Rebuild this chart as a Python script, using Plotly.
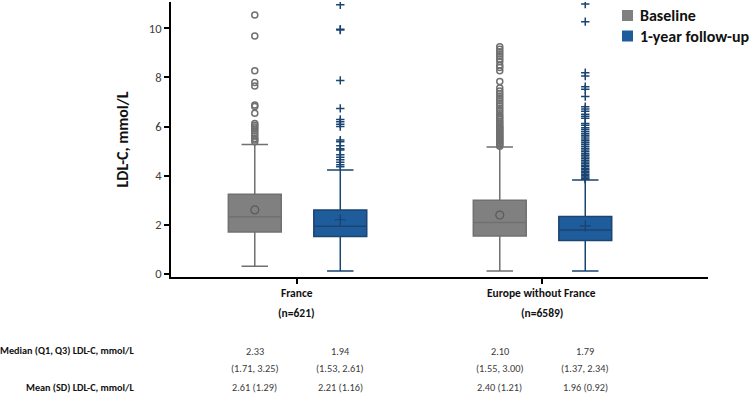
import plotly.graph_objects as go

# ---------------- data ----------------
regions = ["France", "Europe without France"]
region_n = ["(n=621)", "(n=6589)"]
region_pos = [0, 1]
series = ["Baseline", "1-year follow-up"]
series_offset = [-0.172, 0.177]

q1 = {"Baseline": [1.71, 1.55], "1-year follow-up": [1.53, 1.37]}
median = {"Baseline": [2.33, 2.10], "1-year follow-up": [1.94, 1.79]}
q3 = {"Baseline": [3.25, 3.00], "1-year follow-up": [2.61, 2.34]}
mean = {"Baseline": [2.61, 2.40], "1-year follow-up": [2.21, 1.96]}
sd = {"Baseline": [1.29, 1.21], "1-year follow-up": [1.16, 0.92]}
lower_whisker = {"Baseline": [0.32, 0.12], "1-year follow-up": [0.12, 0.12]}
upper_whisker = {"Baseline": [5.27, 5.17], "1-year follow-up": [4.23, 3.83]}

out_fr_base = [10.54, 9.69, 8.27, 7.79, 7.65, 6.88, 6.82, 6.54, 6.13, 6.05, 5.98,
               5.9, 5.82, 5.72, 5.62, 5.52, 5.45, 5.38]
out_fr_fu = [10.96, 9.96, 9.93, 7.88, 6.74, 6.29, 6.2, 6.1, 6.0, 5.45, 5.38, 5.22,
             5.1, 5.05, 4.85, 4.75, 4.65, 4.55, 4.45, 4.37]
out_eu_base = [9.25, 9.15, 9.05, 8.95, 8.85, 8.75, 8.65, 8.5, 8.4, 8.27, 7.83,
               7.57, 7.45, 7.35, 7.25, 7.15, 7.05, 6.95, 6.85, 6.75, 6.65, 6.55,
               6.45, 6.38, 6.3, 6.22, 6.15, 6.08, 6.0, 5.95, 5.9, 5.85, 5.8, 5.75,
               5.7, 5.65, 5.6, 5.55, 5.5, 5.45, 5.4, 5.35, 5.3, 5.25, 5.2]
out_eu_fu = [10.99, 10.27, 8.19, 8.06, 7.62, 7.52, 7.22, 6.81, 6.72, 6.62, 6.5,
             6.42, 6.34, 6.13, 6.05, 5.95, 5.88, 5.8, 5.72, 5.65, 5.58, 5.5, 5.42,
             5.35, 5.28, 5.2, 5.12, 5.05, 4.98, 4.9, 4.83, 4.76, 4.7, 4.63, 4.56,
             4.5, 4.43, 4.37, 4.3, 4.24, 4.18, 4.12, 4.06, 4.0, 3.95, 3.9, 3.86]
outliers = {"Baseline": [out_fr_base, out_eu_base],
            "1-year follow-up": [out_fr_fu, out_eu_fu]}

row_labels = ["Median (Q1, Q3) LDL-C, mmol/L", "Mean (SD) LDL-C, mmol/L"]

# ---------------- styles ----------------
fill = {"Baseline": "#808080", "1-year follow-up": "#1f5c9b"}
edge = {"Baseline": "#707070", "1-year follow-up": "#1a4472"}
out_symbol = {"Baseline": "circle-open", "1-year follow-up": "cross-thin-open"}
mean_color = {"Baseline": "#5a5a5a", "1-year follow-up": "#174070"}
FONT = "Carlito, Lato, sans-serif"

fig = go.Figure()
for s, off in zip(series, series_offset):
    xs = [p + off for p in region_pos]
    fig.add_trace(go.Box(
        x=xs, q1=q1[s], median=median[s], q3=q3[s],
        lowerfence=lower_whisker[s], upperfence=upper_whisker[s],
        width=0.216, whiskerwidth=0.5, boxpoints=False,
        fillcolor=fill[s], line=dict(color=edge[s], width=1.5),
        showlegend=False, hoverinfo="skip"))
    for p, vals in zip(region_pos, outliers[s]):
        fig.add_trace(go.Scatter(
            x=[p + off] * len(vals), y=vals, mode="markers",
            marker=dict(symbol=out_symbol[s], size=6,
                        color=edge[s], line=dict(width=1.5, color=edge[s])),
            showlegend=False, hoverinfo="skip"))
    fig.add_trace(go.Scatter(
        x=xs, y=mean[s], mode="markers",
        marker=dict(symbol=out_symbol[s], size=8, color=mean_color[s],
                    line=dict(width=1.2, color=mean_color[s])),
        showlegend=False, hoverinfo="skip"))

# ---------------- layout ----------------
L, R, T, B = 171, 42, 2, 127
W, H = 750, 404
PW = W - L - R
plot_h = H - T - B
ymin, ymax = -0.12, 11.07


def py(pix):
    return (H - B - pix) / plot_h


def px(pix):
    return (pix - L) / PW


fig.update_layout(
    width=W, height=H, margin=dict(l=L, r=R, t=T, b=B),
    paper_bgcolor="white", plot_bgcolor="white",
    font=dict(family=FONT, size=12, color="#222"),
    xaxis=dict(range=[-0.514, 1.678], showgrid=False, zeroline=False,
               showline=True, linecolor="black", linewidth=2,
               tickvals=region_pos, ticktext=["", ""], ticks="outside",
               ticklen=5, tickwidth=2, tickcolor="black"),
    yaxis=dict(range=[ymin, ymax], showgrid=False, zeroline=False,
               showline=True, linecolor="black", linewidth=2,
               tickvals=[0, 2, 4, 6, 8, 10], ticks="outside", ticklen=5,
               tickwidth=1.5, tickcolor="black",
               tickfont=dict(size=12.5, color="#404040"),
               title=dict(text="<b>LDL-C, mmol/L</b>", font=dict(size=16, color="#111"),
                          standoff=16)),
)

ann = []
for p, name, n in zip(region_pos, regions, region_n):
    ann.append(dict(x=p, y=py(293), xref="x", yref="paper", text=f"<b>{name}</b>",
                    showarrow=False, yanchor="middle", font=dict(size=11.5, color="#111")))
    ann.append(dict(x=p, y=py(313), xref="x", yref="paper", text=f"<b>{n}</b>",
                    showarrow=False, yanchor="middle", font=dict(size=11.5, color="#111")))

for lab, ypix in zip(row_labels, [350, 387]):
    ann.append(dict(x=px(136), y=py(ypix), xref="paper", yref="paper", text=f"<b>{lab}</b>",
                    showarrow=False, xanchor="right", yanchor="middle",
                    font=dict(size=10.2, color="#111")))

for s, off in zip(series, series_offset):
    for i, p in enumerate(region_pos):
        ann.append(dict(x=p + off, y=py(351), xref="x", yref="paper",
                        text=f"{median[s][i]:.2f}", showarrow=False, yanchor="middle",
                        font=dict(size=10.3, color="#3a3a3a")))
        ann.append(dict(x=p + off, y=py(368), xref="x", yref="paper",
                        text=f"({q1[s][i]:.2f}, {q3[s][i]:.2f})", showarrow=False,
                        yanchor="middle", font=dict(size=10.3, color="#3a3a3a")))
        ann.append(dict(x=p + off, y=py(387), xref="x", yref="paper",
                        text=f"{mean[s][i]:.2f} ({sd[s][i]:.2f})", showarrow=False,
                        yanchor="middle", font=dict(size=10.3, color="#3a3a3a")))

shapes = []
for s, ypix in zip(series, [15.5, 36]):
    shapes.append(dict(type="rect", xref="paper", yref="paper",
                       xsizemode="pixel", ysizemode="pixel",
                       xanchor=px(627.5), yanchor=py(ypix),
                       x0=-5.5, x1=5.5, y0=-5.5, y1=5.5,
                       fillcolor=fill[s], line=dict(width=0)))
    ann.append(dict(x=px(638), y=py(ypix), xref="paper", yref="paper",
                    text=f"<b>{s}</b>", showarrow=False, xanchor="left", yanchor="middle",
                    font=dict(size=16, color="#111")))

fig.update_layout(annotations=ann, shapes=shapes)
fig.write_html("out.html")
